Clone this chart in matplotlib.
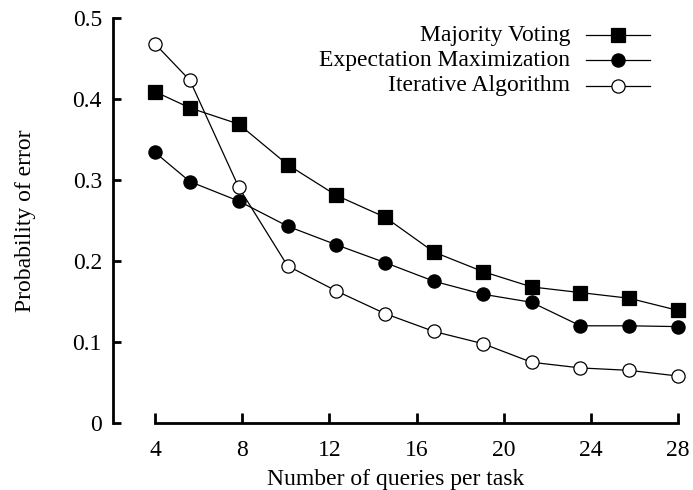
import matplotlib
matplotlib.use('Agg')
import matplotlib.pyplot as plt

plt.rcParams['font.family'] = ['Liberation Serif', 'DejaVu Serif']

## data
queries = [4, 5.6, 7.84, 10.08, 12.32, 14.56, 16.8, 19.04, 21.28, 23.52, 25.76, 28.0]
majority = [0.409, 0.389, 0.369, 0.319, 0.281, 0.254, 0.211, 0.187, 0.168, 0.161, 0.154, 0.139]
em = [0.334, 0.298, 0.274, 0.243, 0.220, 0.198, 0.175, 0.159, 0.149, 0.120, 0.120, 0.119]
iterative = [0.468, 0.423, 0.291, 0.194, 0.163, 0.135, 0.113, 0.098, 0.075, 0.068, 0.065, 0.058]
names = ['Majority Voting', 'Expectation Maximization', 'Iterative Algorithm']
xticks = [4, 8, 12, 16, 20, 24, 28]
yticks = [0, 0.1, 0.2, 0.3, 0.4, 0.5]

W, H = 693, 490
fig = plt.figure(figsize=(W / 100, H / 100), dpi=100)
L, R, T, B = 113, 678, 18, 423
ax = fig.add_axes([L / W, 1 - B / H, (R - L) / W, (B - T) / H])

styles = [
    dict(marker='s', mfc='black', mec='black'),
    dict(marker='o', mfc='black', mec='black'),
    dict(marker='o', mfc='white', mec='black'),
]
series = [majority, em, iterative]

for ys, st in zip(series, styles):
    ax.plot(queries, ys, color='black', lw=0.9, ms=9.5, mew=0.9, clip_on=False, **st)

# axes in gnuplot look: detached spines
x0 = 4 - (155 - L) / 21.75
ax.set_xlim(x0, 28)
ax.set_ylim(0, 0.5)
ax.spines['top'].set_visible(False)
ax.spines['right'].set_visible(False)
ax.spines['left'].set_bounds(0, 0.5)
ax.spines['bottom'].set_bounds(4, 28)
for s in ['left', 'bottom']:
    ax.spines[s].set_linewidth(2)
ax.set_xticks(xticks)
ax.set_yticks(yticks)
ax.set_yticklabels(['0', '0.1', '0.2', '0.3', '0.4', '0.5'])
ax.tick_params(axis='both', direction='in', width=2, labelsize=17)
ax.tick_params(axis='y', length=6, pad=8)
ax.tick_params(axis='x', length=7, pad=12)

ax.set_xlabel('Number of queries per task', fontsize=17, labelpad=6)
ax.set_ylabel('Probability of error', fontsize=17, labelpad=26)

# legend drawn by hand, text right aligned like gnuplot
def fx(px):
    return (px - L) / (R - L)

def fy(py):
    return (B - py) / (B - T)

rows = [35, 60.5, 86]
for name, st, py in zip(names, styles, rows):
    ax.text(fx(570), fy(py), name, transform=ax.transAxes, ha='right', va='center', fontsize=17)
    ax.plot([fx(586), fx(650)], [fy(py), fy(py)], transform=ax.transAxes, color='black', lw=0.9, clip_on=False)
    ax.plot([fx(618)], [fy(py)], transform=ax.transAxes, color='black', ms=9.5, mew=0.9, clip_on=False, **st)

fig.savefig('out.png', dpi=100)
